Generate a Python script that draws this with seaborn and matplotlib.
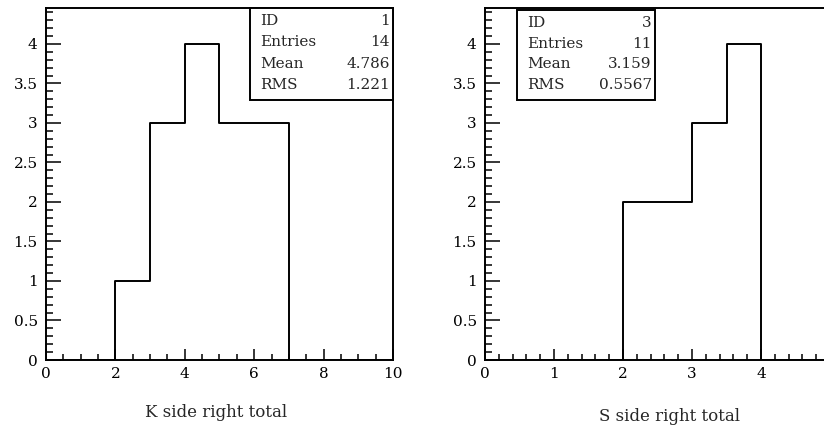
import matplotlib
matplotlib.use("Agg")
import matplotlib.pyplot as plt
import seaborn as sns
from matplotlib.patches import Rectangle
from matplotlib.ticker import MultipleLocator, FuncFormatter, FixedLocator

# K side histogram (ID 1)
k_edges = [0, 1, 2, 3, 4, 5, 6, 7, 8, 9, 10]
k_counts = [0, 0, 1, 3, 4, 3, 3, 0, 0, 0]
k_stats_labels = ["ID", "Entries", "Mean", "RMS"]
k_stats_values = ["1", "14", "4.786", "1.221"]

# S side histogram (ID 3)
s_edges = [0, 0.5, 1, 1.5, 2, 2.5, 3, 3.5, 4, 4.5, 5]
s_counts = [0, 0, 0, 0, 2, 2, 3, 4, 0, 0]
s_stats_labels = ["ID", "Entries", "Mean", "RMS"]
s_stats_values = ["3", "11", "3.159", "0.5567"]

sns.set_theme(style="white")
plt.rcParams["font.family"] = ["DejaVu Serif", "Liberation Serif"]
plt.rcParams["font.size"] = 11

fig = plt.figure(figsize=(8.24, 4.26), dpi=100)
ax1 = fig.add_axes([46 / 824, 66 / 426, 347 / 824, 352 / 426])
ax2 = fig.add_axes([485 / 824, 66 / 426, 345 / 824, 352 / 426])


def centers(edges):
    return [(a + b) / 2 for a, b in zip(edges[:-1], edges[1:])]


def draw_hist(ax, edges, counts, xmajor, xminor, xlabel):
    sns.histplot(x=centers(edges), weights=counts, bins=edges, element="step",
                 fill=False, color="black", linewidth=1.4, ax=ax)
    ax.set_xlim(edges[0], edges[-1])
    ax.set_ylim(0, 4.455)
    ax.set_ylabel("")
    ax.set_xlabel(xlabel)
    ax.xaxis.set_major_locator(MultipleLocator(xmajor))
    ax.xaxis.set_minor_locator(MultipleLocator(xminor))
    ax.yaxis.set_major_locator(MultipleLocator(0.5))
    ax.yaxis.set_minor_locator(MultipleLocator(0.1))
    ax.yaxis.set_major_formatter(FuncFormatter(lambda v, p: "%g" % v))
    ax.xaxis.set_major_formatter(FuncFormatter(lambda v, p: "%g" % v))
    ax.tick_params(axis="both", which="both", direction="in", color="black",
                   labelcolor="black", width=1.1, bottom=True, left=True,
                   top=False, right=False)
    ax.tick_params(axis="x", which="major", length=8, pad=5)
    ax.tick_params(axis="x", which="minor", length=4.5)
    ax.tick_params(axis="y", which="major", length=11, pad=6)
    ax.tick_params(axis="y", which="minor", length=5)
    for sp in ax.spines.values():
        sp.set_visible(True)
        sp.set_color("black")
        sp.set_linewidth(1.4)


def draw_stats(ax, x0, x1, y0, y1, labels, values):
    ax.add_patch(Rectangle((x0, y0), x1 - x0, y1 - y0, transform=ax.transAxes,
                           fill=True, facecolor="white", edgecolor="black",
                           linewidth=1.4, zorder=5, clip_on=False))
    step = (y1 - y0) / 4.3
    for i, (lab, val) in enumerate(zip(labels, values)):
        y = y1 - step * (i + 0.6)
        ax.text(x0 + 0.03, y, lab, transform=ax.transAxes, ha="left",
                va="center", zorder=6)
        ax.text(x1 - 0.01, y, val, transform=ax.transAxes, ha="right",
                va="center", zorder=6)


draw_hist(ax1, k_edges, k_counts, 2, 0.5, "K side right total")
draw_hist(ax2, s_edges, s_counts, 1, 0.2, "S side right total")
# the "5" label on the right panel falls outside the picture in the reference
ax2.xaxis.set_major_locator(FixedLocator([0, 1, 2, 3, 4]))
ax1.xaxis.set_label_coords(0.49, -0.125)
ax2.xaxis.set_label_coords(0.535, -0.135)

draw_stats(ax1, 0.588, 1.0, 0.739, 1.0, k_stats_labels, k_stats_values)
draw_stats(ax2, 0.093, 0.493, 0.739, 0.994, s_stats_labels, s_stats_values)

fig.savefig("out.png", dpi=100, facecolor="white")
